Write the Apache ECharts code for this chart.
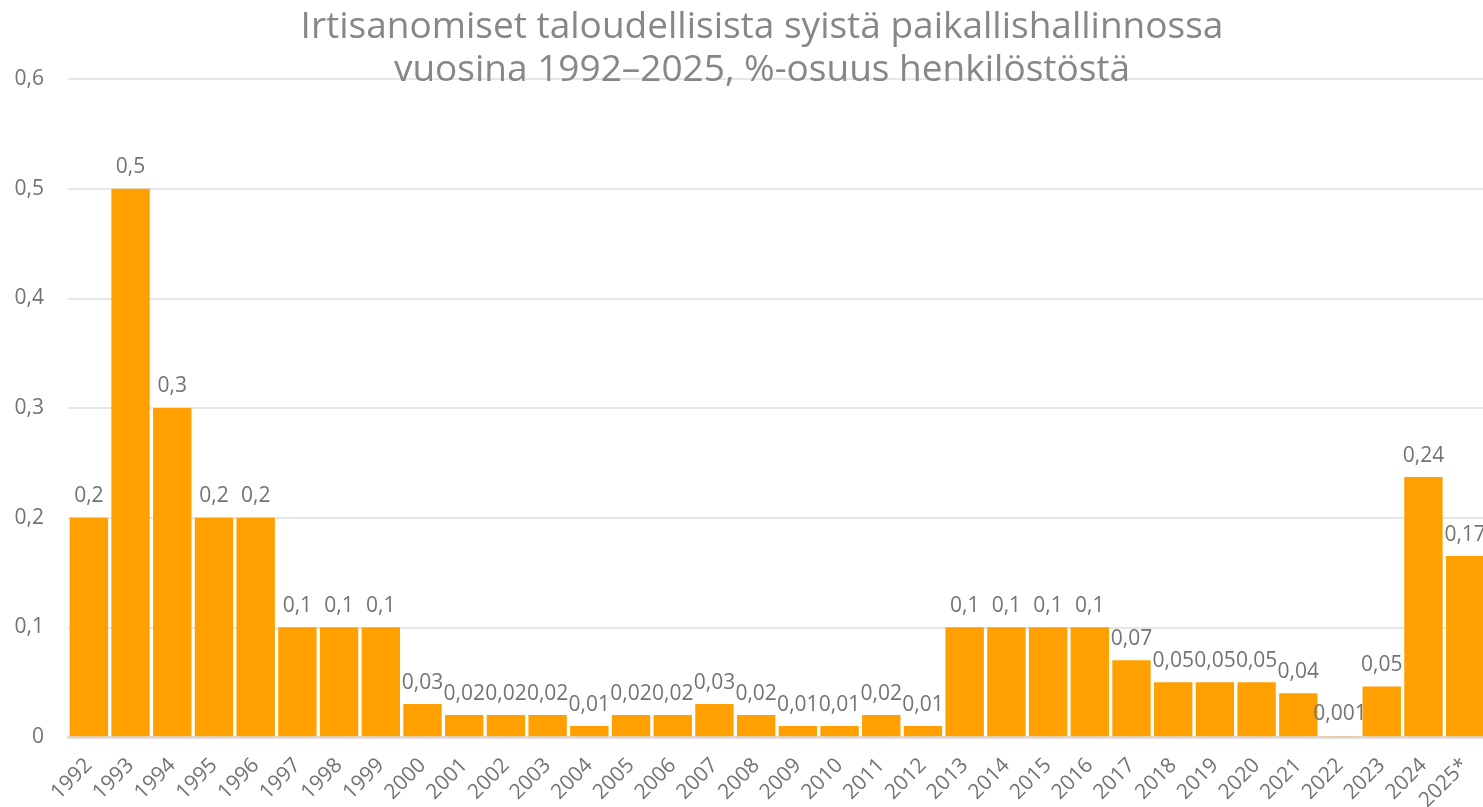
<!DOCTYPE html>
<html>
<head>
<meta charset="utf-8">
<script src="https://cdn.jsdelivr.net/npm/echarts@6/dist/echarts.min.js"></script>
<style>
  html, body { margin: 0; padding: 0; background: #fff; }
  #chart { width: 1483px; height: 807px; }
</style>
</head>
<body>
<div id="chart"></div>
<script>
const years = ['1992', '1993', '1994', '1995', '1996', '1997', '1998', '1999', '2000', '2001',
  '2002', '2003', '2004', '2005', '2006', '2007', '2008', '2009', '2010', '2011', '2012',
  '2013', '2014', '2015', '2016', '2017', '2018', '2019', '2020', '2021', '2022', '2023',
  '2024', '2025*'];
const shares = [0.2, 0.5, 0.3, 0.2, 0.2, 0.1, 0.1, 0.1, 0.03, 0.02,
  0.02, 0.02, 0.01, 0.02, 0.02, 0.03, 0.02, 0.01, 0.01, 0.02, 0.01,
  0.1, 0.1, 0.1, 0.1, 0.07, 0.05, 0.05, 0.05, 0.04, 0.001, 0.046,
  0.237, 0.165];
const shareLabels = ['0,2', '0,5', '0,3', '0,2', '0,2', '0,1', '0,1', '0,1', '0,03', '0,02',
  '0,02', '0,02', '0,01', '0,02', '0,02', '0,03', '0,02', '0,01', '0,01', '0,02', '0,01',
  '0,1', '0,1', '0,1', '0,1', '0,07', '0,05', '0,05', '0,05', '0,04', '0,001', '0,05',
  '0,24', '0,17'];

const gray = '#737373';
const font = 'Open Sans';

const chart = echarts.init(document.getElementById('chart'));
chart.setOption({
  animation: false,
  textStyle: { fontFamily: font },
  title: {
    text: 'Irtisanomiset taloudellisista syistä paikallishallinnossa\nvuosina 1992–2025, %-osuus henkilöstöstä',
    left: 757,
    top: 1,
    textAlign: 'center',
    textStyle: {
      fontFamily: font,
      fontSize: 37,
      fontWeight: 'normal',
      color: '#878787',
      lineHeight: 43
    }
  },
  grid: {
    left: 68,
    top: 79,
    width: 1418,
    height: 658,
    containLabel: false,
    outerBoundsMode: 'none'
  },
  xAxis: {
    type: 'category',
    data: years,
    z: 3,
    axisTick: { show: false },
    axisLine: { lineStyle: { color: '#d9d9d9', width: 2.5 } },
    axisLabel: {
      interval: 0,
      rotate: 45,
      color: gray,
      fontSize: 21,
      margin: 25
    }
  },
  yAxis: {
    type: 'value',
    min: 0,
    max: 0.6,
    interval: 0.1,
    axisLine: { show: false },
    axisTick: { show: false },
    splitLine: { lineStyle: { color: '#dedede', width: 1.5 } },
    axisLabel: {
      color: gray,
      fontSize: 21,
      margin: 24,
      formatter: v => String(Math.round(v * 10) / 10).replace('.', ',')
    }
  },
  series: [{
    type: 'bar',
    data: shares,
    barCategoryGap: '8%',
    itemStyle: { color: '#FFA000' },
    label: {
      show: true,
      position: 'top',
      distance: 11,
      color: gray,
      fontSize: 21,
      formatter: p => shareLabels[p.dataIndex]
    }
  }]
});
</script>
</body>
</html>
